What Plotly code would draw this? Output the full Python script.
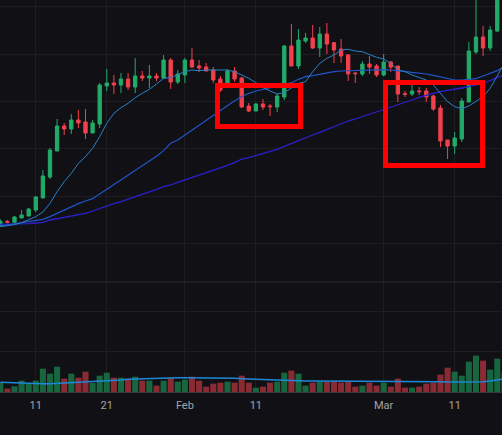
import pandas as pd
import plotly.graph_objects as go

# daily candles, first one on 6 Jan
opens = [170, 182, 179, 192, 198, 216, 252, 315, 393, 468, 459, 486, 480, 447, 474, 588, 597, 591, 609, 585, 618, 612, 618, 612,
         666, 600, 621, 666, 648, 645, 636, 609, 591, 633, 612, 528, 513, 534, 528, 525, 555, 708, 648, 723, 732, 702, 744,
         718, 699, 681, 627, 624, 654, 648, 621, 660, 648, 565, 564, 573, 573, 558, 522, 426, 408, 429, 540, 690, 735, 702, 753]
highs = [188, 186, 198, 216, 222, 258, 336, 402, 489, 477, 504, 516, 519, 486, 597, 639, 621, 627, 627, 672, 633, 651, 627, 681,
         672, 636, 672, 702, 666, 657, 645, 618, 639, 645, 615, 537, 537, 549, 534, 564, 711, 774, 759, 747, 771, 765, 777,
         720, 729, 684, 630, 663, 678, 654, 684, 663, 648, 573, 591, 585, 582, 561, 531, 426, 450, 552, 720, 870, 768, 768, 900]
lows = [166, 176, 178, 192, 198, 210, 252, 309, 393, 441, 444, 462, 429, 447, 462, 573, 564, 567, 576, 567, 603, 582, 603, 609,
        579, 594, 597, 642, 630, 633, 597, 570, 586, 600, 522, 510, 513, 516, 498, 510, 546, 648, 639, 717, 699, 675, 684,
        657, 657, 603, 597, 618, 624, 615, 618, 630, 540, 555, 558, 561, 540, 513, 405, 369, 384, 420, 540, 684, 678, 693, 750]
closes = [183, 179, 195, 201, 219, 255, 318, 396, 468, 459, 486, 477, 447, 477, 591, 597, 591, 609, 585, 618, 612, 618, 612, 666,
          600, 624, 666, 645, 642, 633, 606, 576, 633, 609, 525, 513, 534, 525, 526, 558, 708, 648, 726, 732, 702, 744, 714,
          696, 678, 624, 625, 654, 645, 621, 660, 645, 564, 563, 573, 571, 555, 519, 423, 408, 432, 543, 693, 735, 702, 756, 870]

# moving averages and volume run one day past the last candle
ma_fast = [166, 168, 172, 178, 186, 196, 210, 236, 271, 301, 326, 356, 376, 401, 436, 476, 506, 523, 536, 553, 566, 578, 594, 611,
           613, 621, 631, 636, 634, 636, 636, 636, 636, 631, 621, 611, 598, 583, 573, 564, 568, 581, 596, 601, 631, 656, 671,
           681, 696, 698, 693, 691, 683, 674, 669, 656, 636, 631, 621, 614, 606, 591, 566, 541, 526, 520, 528, 541, 556, 581, 621, 656]
ma_mid = [168, 171, 174, 177, 181, 184, 188, 196, 206, 216, 226, 235, 243, 250, 264, 278, 292, 306, 319, 333, 348, 363, 377, 394,
          416, 426, 441, 456, 471, 486, 499, 514, 529, 544, 556, 566, 573, 579, 583, 586, 591, 598, 608, 616, 619, 623, 628,
          631, 633, 634, 634, 634, 635, 636, 637, 636, 635, 632, 629, 627, 624, 620, 615, 609, 606, 606, 608, 610, 618, 626, 634, 646]
ma_slow = [173, 173, 174, 174, 175, 177, 179, 186, 190, 194, 198, 202, 206, 213, 221, 228, 235, 241, 248, 256, 263, 271, 278, 286,
           291, 299, 306, 314, 320, 328, 336, 342, 350, 358, 369, 373, 379, 386, 391, 398, 407, 416, 424, 433, 441, 449, 458,
           467, 474, 483, 489, 496, 503, 509, 516, 524, 531, 538, 546, 554, 561, 566, 571, 574, 578, 582, 586, 591, 596, 604, 614, 621]

volume = [27, 10, 17, 34, 24, 34, 70, 55, 76, 40, 55, 43, 61, 27, 49, 58, 43, 43, 40, 46, 34, 34, 19, 34,
          43, 31, 37, 46, 34, 16, 25, 28, 31, 28, 49, 28, 13, 16, 28, 31, 58, 64, 55, 19, 28, 31, 31,
          31, 28, 31, 16, 19, 28, 19, 28, 16, 40, 13, 13, 16, 25, 28, 52, 73, 61, 49, 91, 109, 94, 67, 100, 61]
volume_ma = [29, 28, 28, 27, 26, 25, 25, 25, 26, 26, 27, 28, 29, 30, 32, 33, 34, 36, 38, 39, 40, 41, 42, 43,
             43, 43, 43, 43, 43, 43, 42, 42, 41, 41, 40, 39, 38, 37, 36, 35, 34, 33, 33, 33, 33, 33, 33,
             33, 33, 33, 33, 32, 32, 32, 32, 32, 32, 32, 32, 32, 32, 31, 31, 30, 30, 30, 30, 30, 31, 33, 36, 39]

tick_dates = ["2023-01-11", "2023-01-21", "2023-02-01", "2023-02-11", "2023-03-01", "2023-03-11"]
tick_labels = ["11", "21", "Feb", "11", "Mar", "11"]
price_grid = [116, 258, 402, 543, 684, 828]
volume_grid = [123, 243]

days = pd.date_range("2023-01-06", periods=len(volume), freq="D")
candle_days = days[:len(closes)]

GREEN = "#22ab68"
RED = "#f2414c"
VOL_GREEN = "#18663f"
VOL_RED = "#8a2b34"
GRID = "#1d1d22"
BG = "#111115"
vol_colors = [VOL_GREEN] * len(volume)
for i in range(len(closes)):
    if closes[i] < opens[i]:
        vol_colors[i] = VOL_RED
vol_colors[-1] = VOL_RED

fig = go.Figure()
fig.add_trace(go.Bar(x=days, y=volume, marker=dict(color=vol_colors, line=dict(width=0)), yaxis="y2"))
fig.add_trace(go.Scatter(x=days, y=volume_ma, mode="lines", line=dict(color="#1e88d8", width=1.5), yaxis="y2"))
fig.add_trace(go.Scatter(x=days, y=ma_slow, mode="lines", line=dict(color="#2b20d0", width=1.3)))
fig.add_trace(go.Scatter(x=days, y=ma_mid, mode="lines", line=dict(color="#2055c8", width=1.2)))
fig.add_trace(go.Scatter(x=days, y=ma_fast, mode="lines", line=dict(color="#2a80c8", width=1)))
fig.add_trace(go.Candlestick(
    x=candle_days, open=opens, high=highs, low=lows, close=closes, whiskerwidth=0,
    increasing=dict(line=dict(color=GREEN, width=1), fillcolor=GREEN),
    decreasing=dict(line=dict(color=RED, width=1), fillcolor=RED),
))

# red highlight boxes
for x0, x1, y0, y1 in [(217.5, 300.5, 85.5, 126.5), (385.5, 482.5, 82.5, 165.5)]:
    fig.add_shape(type="rect", xref="paper", yref="paper", x0=x0 / 502, x1=x1 / 502,
                  y0=1 - y0 / 435, y1=1 - y1 / 435, line=dict(color="#fe0000", width=5))
# pane separator
fig.add_shape(type="line", xref="paper", yref="paper", x0=0, x1=1, y0=1 - 282 / 435, y1=1 - 282 / 435,
              line=dict(color="#2c2c32", width=1))

fig.update_layout(
    width=502, height=435, margin=dict(l=0, r=0, t=0, b=0), showlegend=False,
    paper_bgcolor=BG, plot_bgcolor=BG, bargap=0.15, boxgap=0.33,
    font=dict(family="Roboto", size=11, color="#a3a3a8"),
    xaxis=dict(type="date", range=["2023-01-05 23:00", "2023-03-17 16:00"], anchor="y2",
               tickvals=tick_dates, ticktext=tick_labels, showgrid=True, gridcolor=GRID, gridwidth=1,
               showline=True, linecolor="#38383e", linewidth=1, rangeslider=dict(visible=False), ticks="",
               ticklabelstandoff=3),
    yaxis=dict(domain=[153 / 435, 1], range=[0, 846], tickvals=price_grid, showticklabels=False,
               showgrid=True, gridcolor=GRID, zeroline=False),
    yaxis2=dict(domain=[43 / 435, 153 / 435], range=[0, 330], tickvals=volume_grid, showticklabels=False,
                showgrid=True, gridcolor=GRID, zeroline=False),
)

# page margin would shift the plot by 8px
fig.write_html("out.html", config=dict(displayModeBar=False),
               post_script="document.body.style.margin='0';document.body.style.background='#111115';")
